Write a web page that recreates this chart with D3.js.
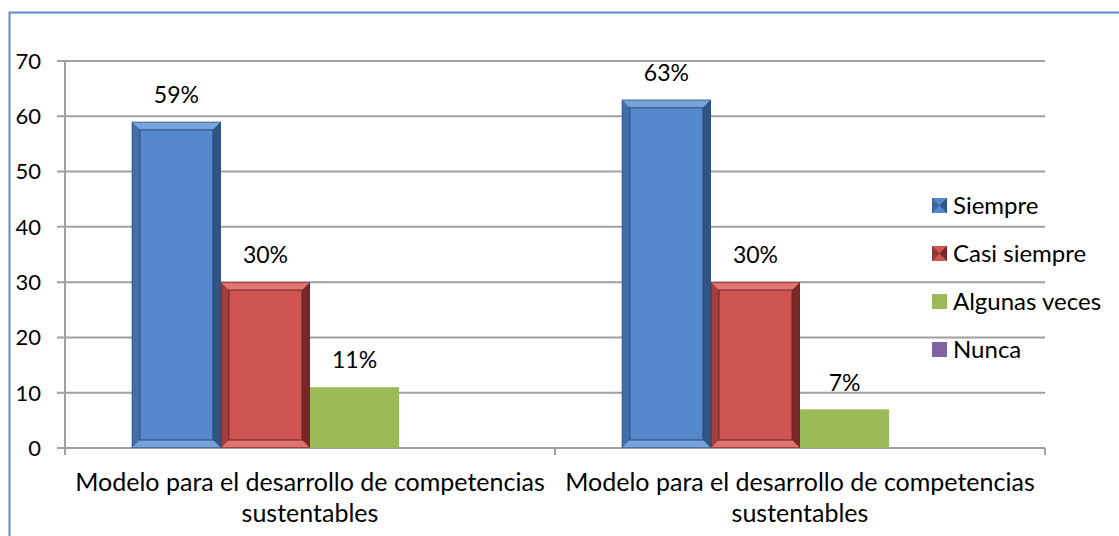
<!DOCTYPE html>
<html><head><meta charset="utf-8">
<script src="https://cdn.jsdelivr.net/npm/d3@7"></script>
<style>body{margin:0;background:#fff}svg{display:block}text{font-family:Lato,"Open Sans",sans-serif;fill:#000}</style>
</head><body><svg id="c" width="1119" height="536"></svg>
<script>
const categories = ["Modelo para el desarrollo de competencias sustentables|1", "Modelo para el desarrollo de competencias sustentables|2"];
const categoryLines = [["Modelo para el desarrollo de competencias","sustentables"],["Modelo para el desarrollo de competencias","sustentables"]];
const seriesNames = ["Siempre","Casi siempre","Algunas veces","Nunca"];
const siempre = [59, 63];
const casiSiempre = [30, 30];
const algunasVeces = [11, 7];
const nunca = [0, 0];
const valueLabels = [["59%","30%","11%",""],["63%","30%","7%",""]];
const yTicks = [0,10,20,30,40,50,60,70];
const colors = ["#5589cb","#cf5553","#9bbb59","#8064a2"];
const darks = ["#2c4f7c","#6e2422","#6a8a30","#4e3c6a"];
const lights = ["#8fb6e6","#f08a88","#c4dc8f","#a993c6"];
const bevel = [true,true,false,false];

const svg = d3.select("#c");
svg.append("path").attr("d","M9.5,536 V12.5 H1119").attr("fill","none").attr("stroke","#5b8ccc").attr("stroke-width",2);

const x0 = d3.scaleBand().domain(categories).range([65,1045]).padding(0);
const x1 = d3.scaleBand().domain(seriesNames).range([0, x0.bandwidth()]).paddingOuter(0.75).paddingInner(0);
const y = d3.scaleLinear().domain([0,70]).range([448,61]);

svg.append("g").selectAll("line").data(yTicks).join("line")
  .attr("x1",57).attr("x2",1045).attr("y1",d=>y(d)).attr("y2",d=>y(d))
  .attr("stroke","#a0a0a0").attr("stroke-width",2);
svg.append("line").attr("x1",65).attr("x2",65).attr("y1",y(70)).attr("y2",y(0)+7).attr("stroke","#a0a0a0").attr("stroke-width",2);
svg.append("g").selectAll("line").data([65,555,1045]).join("line")
  .attr("x1",d=>d).attr("x2",d=>d).attr("y1",y(0)).attr("y2",y(0)+7).attr("stroke","#a0a0a0").attr("stroke-width",2);
svg.append("g").selectAll("text").data(yTicks).join("text")
  .attr("x",41).attr("y",d=>y(d)).attr("dy","0.36em").attr("text-anchor","end")
  .style("font-size","22px").text(d=>d);

const rows = [siempre,casiSiempre,algunasVeces,nunca];
const bars = [];
categories.forEach((c,ci)=>{
  seriesNames.forEach((s,si)=>{
    bars.push({c,ci,s,si,v:rows[si][ci],label:valueLabels[ci][si]});
  });
});
const g = svg.append("g");
bars.forEach(b=>{
  if(b.v<=0) return;
  const bx = x0(b.c)+x1(b.s), bw = x1.bandwidth();
  const by = y(b.v), bh = y(0)-by;
  g.append("rect").attr("x",bx).attr("y",by).attr("width",bw).attr("height",bh).attr("fill",colors[b.si]);
  if(bevel[b.si]){
    const e = 8;
    g.append("path").attr("d",`M${bx},${by} H${bx+bw} L${bx+bw-e},${by+e} H${bx+e} Z`).attr("fill",lights[b.si]).attr("opacity",0.6);
    g.append("path").attr("d",`M${bx},${by} L${bx+e},${by+e} V${by+bh-e} L${bx},${by+bh} Z`).attr("fill",darks[b.si]).attr("opacity",0.45);
    g.append("path").attr("d",`M${bx+bw},${by} L${bx+bw-e},${by+e} V${by+bh-e} L${bx+bw},${by+bh} Z`).attr("fill",darks[b.si]).attr("opacity",0.9);
    g.append("path").attr("d",`M${bx},${by+bh} L${bx+e},${by+bh-e} H${bx+bw-e} L${bx+bw},${by+bh} Z`).attr("fill",lights[b.si]).attr("opacity",0.55);
    g.append("rect").attr("x",bx+e).attr("y",by+e).attr("width",bw-2*e).attr("height",bh-2*e).attr("fill","none").attr("stroke",darks[b.si]).attr("stroke-width",1.5).attr("opacity",0.7);
    g.append("rect").attr("x",bx+0.5).attr("y",by+0.5).attr("width",bw-1).attr("height",bh-1).attr("fill","none").attr("stroke",darks[b.si]).attr("stroke-width",1).attr("opacity",0.6);
  }
  g.append("text").attr("x",bx+bw/2).attr("y",by-27).attr("dy","0.36em").attr("text-anchor","middle")
    .style("font-size","23px").text(b.label);
});

categories.forEach((c,ci)=>{
  const t = svg.append("text").attr("text-anchor","middle").style("font-size","25px");
  categoryLines[ci].forEach((ln,li)=>{
    t.append("tspan").attr("x",x0(c)+x0.bandwidth()/2).attr("y",491+li*31).text(ln);
  });
});

const lg = svg.append("g");
seriesNames.forEach((s,i)=>{
  const ly = 205 + i*48;
  lg.append("rect").attr("x",932).attr("y",ly-7).attr("width",15).attr("height",15).attr("fill",colors[i]);
  if(bevel[i]){
    lg.append("path").attr("d",`M932,${ly-7} L939.5,${ly+0.5} L932,${ly+8} Z`).attr("fill",darks[i]).attr("opacity",0.6);
    lg.append("path").attr("d",`M947,${ly-7} L939.5,${ly+0.5} L947,${ly+8} Z`).attr("fill",darks[i]).attr("opacity",0.9);
  }
  lg.append("text").attr("x",953).attr("y",ly).attr("dy","0.36em").style("font-size","24px").text(s);
});
</script></body></html>
